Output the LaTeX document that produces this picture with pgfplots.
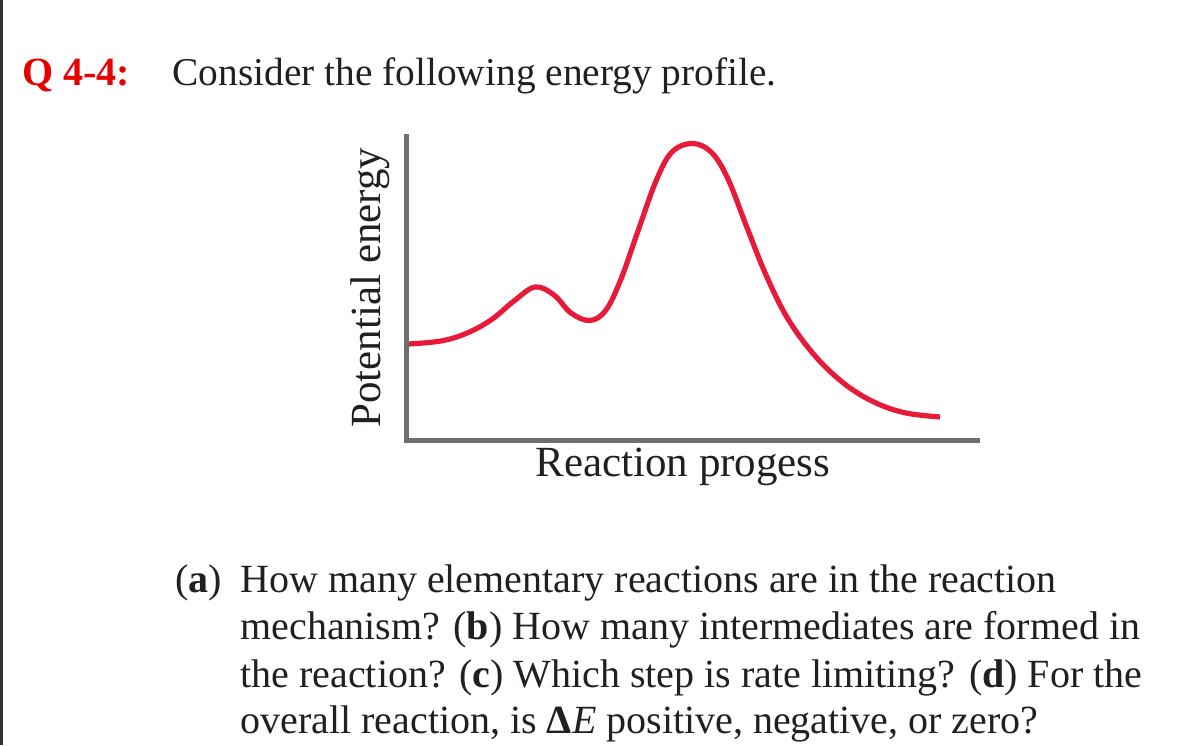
\documentclass[border=0pt]{standalone}
\usepackage{pgfplots}
\pgfplotsset{compat=1.18}
\usepackage{fontspec}
\setmainfont{Liberation Serif}
\definecolor{curvered}{RGB}{232,26,58}
\definecolor{axgray}{RGB}{110,110,110}
\definecolor{txt}{RGB}{35,31,32}
\definecolor{qred}{RGB}{232,0,0}
\begin{document}
\begin{tikzpicture}[x=0.5pt,y=0.5pt]
\path[use as bounding box] (0,0) rectangle (1200,745);
\draw[line width=1.5pt, color=black!80] (1.5,0) -- (1.5,745);
\begin{axis}[at={(203pt,152pt)}, anchor=south west, scale only axis,
  width=285.5pt, height=152pt, xmin=0, xmax=571, ymin=0, ymax=304,
  axis x line=bottom, axis y line=left,
  axis line style={-, line width=2.5pt, axgray, line cap=rect},
  xtick=\empty, ytick=\empty, clip=false]
\addplot[curvered, line width=2.6pt, smooth, tension=0.6, line join=round] coordinates {
(3,97) (35,100) (60,107.5) (85,121) (108,140) (129,154) (148,146) (165,128) (184,120.5)
(200,131) (215,162) (232,210) (250,260) (266,289) (287,297.5) (306,288)
(322,262) (340,216) (360,166) (382,122) (410,84) (440,56) (470,38) (500,28) (534,24)
};
\end{axis}
\node[anchor=base west, inner sep=0, text=qred, font=\fontsize{20}{24}\selectfont\bfseries] at (22,659) {Q 4-4:};
\node[anchor=base west, inner sep=0, text=txt, font=\fontsize{19.7}{24}\selectfont] at (172,659) {Consider the following energy profile.};
\node[anchor=base west, inner sep=0, rotate=90, text=txt, font=\fontsize{21.5}{24}\selectfont] at (380,317) {Potential energy};
\node[anchor=base west, inner sep=0, text=txt, font=\fontsize{21.5}{24}\selectfont] at (535,268) {Reaction progess};
\node[anchor=base west, inner sep=0, text=txt, font=\fontsize{20}{24}\selectfont] at (175,152) {(\textbf{a})};
\node[anchor=base west, inner sep=0, text=txt, font=\fontsize{20}{24}\selectfont] at (240,152) {How many elementary reactions are in the reaction};
\node[anchor=base west, inner sep=0, text=txt, font=\fontsize{20}{24}\selectfont] at (240,105) {mechanism? (\textbf{b}) How many intermediates are formed in};
\node[anchor=base west, inner sep=0, text=txt, font=\fontsize{20}{24}\selectfont] at (240,58) {the reaction? (\textbf{c}) Which step is rate limiting? (\textbf{d}) For the};
\node[anchor=base west, inner sep=0, text=txt, font=\fontsize{20}{24}\selectfont] at (240,12) {overall reaction, is \textbf{Δ}\textit{E} positive, negative, or zero?};
\end{tikzpicture}
\end{document}
